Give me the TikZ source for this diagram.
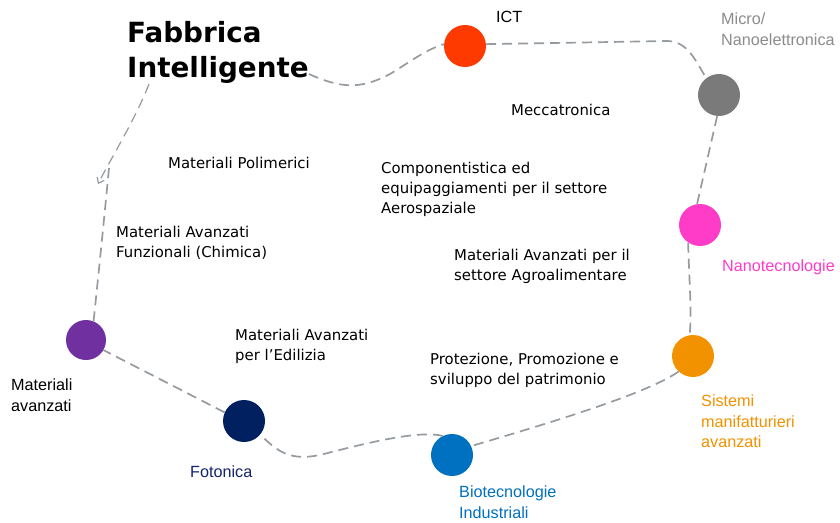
\documentclass[tikz,border=0pt]{standalone}
\usepackage{fontspec}
\setmainfont{DejaVu Sans}
\newfontfamily\arialf{Liberation Sans}
\usetikzlibrary{arrows.meta}
\definecolor{cRed}{RGB}{255,58,0}
\definecolor{cGrey}{RGB}{122,122,122}
\definecolor{cMag}{RGB}{255,60,200}
\definecolor{cOrange}{RGB}{242,146,0}
\definecolor{cBlue}{RGB}{0,112,192}
\definecolor{cNavy}{RGB}{0,32,96}
\definecolor{cPurple}{RGB}{112,48,160}
\definecolor{cLine}{RGB}{150,155,160}
\definecolor{cMicro}{RGB}{140,140,140}
\definecolor{cNavyT}{RGB}{20,35,110}
\tikzset{
  dot/.style={circle, minimum size=42pt, inner sep=0pt, draw=none},
  conn/.style={draw=cLine, line width=1.7pt, dash pattern=on 10pt off 6pt},
  blk/.style={font=\fontsize{14.9}{20}\selectfont, anchor=north west, inner sep=0pt, align=left, text=black},
  clab/.style={font=\arialf\fontsize{16.2}{20.5}\selectfont, anchor=north west, inner sep=0pt, align=left},
}
\begin{document}
\begin{tikzpicture}[x=1pt,y=-1pt]
\useasboundingbox[fill=white] (0,0) rectangle (840,522);
% title
\node[font=\bfseries\fontsize{27.8}{35.5}\selectfont, anchor=north west, inner sep=0pt, align=left] (fab) at (127,21) {Fabbrica\\Intelligente};
% circles
\node[dot, fill=cRed] (ict) at (465,46) {};
\node[dot, fill=cGrey] (micro) at (719,95) {};
\node[dot, fill=cMag] (nano) at (700,225) {};
\node[dot, fill=cOrange] (sist) at (693,356) {};
\node[dot, fill=cBlue] (bio) at (452,455) {};
\node[dot, fill=cNavy] (foto) at (244,421) {};
\node[dot, fill=cPurple, minimum size=40pt] (mat) at (86,340) {};
% coloured labels
\node[clab, text=black] (lict) at (496,11) {ICT};
\node[clab, text=cMicro] (lmicro) at (721,13) {Micro/\\Nanoelettronica};
\node[clab, text=cMag] (lnano) at (722,260) {Nanotecnologie};
\node[clab, text=cOrange] (lsist) at (701,395) {Sistemi\\manifatturieri\\avanzati};
\node[clab, text=cNavyT] (lfoto) at (190,466) {Fotonica};
\node[clab, text=cBlue] (lbio) at (459,486) {Biotecnologie\\Industriali};
\node[clab, text=black] (lmat) at (11,379) {Materiali\\avanzati};
% black sector labels
\node[blk] (t1) at (511,103.5) {Meccatronica};
\node[blk] (t2) at (168,156.5) {Materiali Polimerici};
\node[blk] (t3) at (381,161.5) {Componentistica ed\\equipaggiamenti per il settore\\Aerospaziale};
\node[blk] (t4) at (116,225.5) {Materiali Avanzati\\Funzionali (Chimica)};
\node[blk] (t5) at (454,248.5) {Materiali Avanzati per il\\settore Agroalimentare};
\node[blk] (t6) at (235,328.5) {Materiali Avanzati\\per l’Edilizia};
\node[blk] (t7) at (430,352.5) {Protezione, Promozione e\\sviluppo del patrimonio};
% connectors
\coordinate (k) at (109,168);
\coordinate (tip) at (98,184);
\draw[conn] ([yshift=10pt]fab.south east) .. controls (340,88) and (360,90) .. (390,74) .. controls (410,62) and (425,50) .. (ict.175);
\draw[conn] (ict.5) -- (668,41) .. controls (688,42) and (695,60) .. (micro.127);
\draw[conn] (micro.265) -- (nano.98);
\draw[conn] (nano.236) .. controls (689,280) and (692,310) .. (sist.99);
\draw[conn] (sist.227) .. controls (650,392) and (560,420) .. (bio.25);
\draw[conn] (bio.116) .. controls (420,430) and (370,442) .. (320,455) .. controls (290,461) and (278,452) .. (foto.320);
\draw[conn] (foto.156) -- (mat.330);
\draw[conn] (mat.68) .. controls (100,260) and (105,210) .. (k);
\draw[conn, line width=1.2pt, -{Straight Barb[length=5pt,width=8pt]}] ([xshift=22pt]fab.south west) .. controls (135,120) and (110,160) .. (tip);
\end{tikzpicture}
\end{document}
